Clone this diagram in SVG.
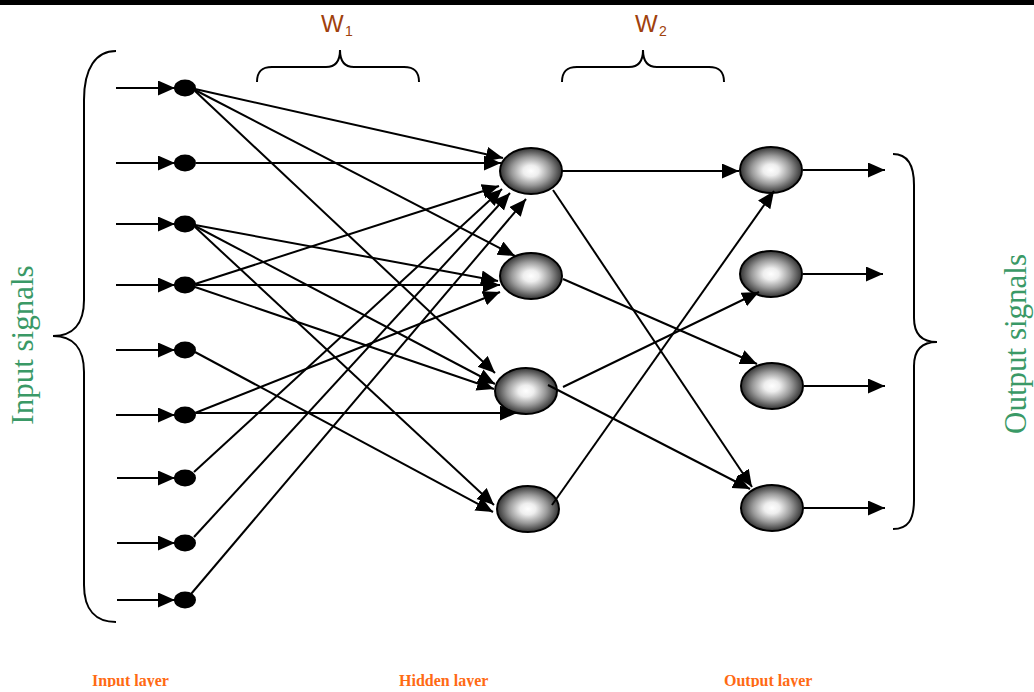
<svg xmlns="http://www.w3.org/2000/svg" width="1034" height="692" viewBox="0 0 1034 692">
  <defs>
    <radialGradient id="ball" cx="50%" cy="50%" r="50%">
      <stop offset="0" stop-color="#ffffff"/>
      <stop offset="0.25" stop-color="#eeeeee"/>
      <stop offset="0.62" stop-color="#9a9a9a"/>
      <stop offset="1" stop-color="#333333"/>
    </radialGradient>
    <marker id="head" markerUnits="userSpaceOnUse" markerWidth="18" markerHeight="16" refX="17" refY="7.5" orient="auto">
      <path d="M0,0 L17,7.5 L0,15 z" fill="#000"/>
    </marker>
    <clipPath id="bottomClip">
      <rect x="0" y="600" width="1034" height="87"/>
    </clipPath>
  </defs>
  <style>
    .edge { stroke: #000; stroke-width: 2; fill: none; marker-end: url(#head); }
    .brace { stroke: #000; stroke-width: 2; fill: none; }
    .dot { fill: #000; }
    .unit { fill: url(#ball); stroke: #000; stroke-width: 2; }
    .wlabel { font-family: "Liberation Sans", Arial, sans-serif; fill: #a0410d; }
    .side { font-family: "Liberation Serif", "Times New Roman", serif; font-size: 31px; fill: #3a9966; }
    .layer { font-family: "Liberation Serif", "Times New Roman", serif; font-size: 16px; font-weight: bold; fill: #ff6a13; }
  </style>

  <rect x="0" y="0" width="1034" height="5" fill="#000"/>

  <!-- weight labels and their braces -->
  <g id="w1">
    <text class="wlabel" x="321" y="32" font-size="24">W</text>
    <text class="wlabel" x="345" y="36" font-size="14">1</text>
    <path class="brace" d="M257,82 C257,72 261,67 272,67 L326,67 C335,67 340,61 340,50 C340,61 345,67 354,67 L404,67 C415,67 419,72 419,82"/>
  </g>
  <g id="w2">
    <text class="wlabel" x="635" y="32" font-size="24">W</text>
    <text class="wlabel" x="659" y="36" font-size="14">2</text>
    <path class="brace" d="M562,82 C562,72 566,67 577,67 L629,67 C638,67 643,61 643,50 C643,61 648,67 657,67 L709,67 C720,67 724,72 724,82"/>
  </g>

  <!-- side braces and captions -->
  <g id="input-signals">
    <path class="brace" d="M116,51 C96,51 84,68 84,100 L84,300 C84,325 72,336 53,336 C72,336 84,347 84,372 L84,585 C84,610 96,622 116,622"/>
    <text class="side" transform="translate(32.5,345) rotate(-90)" text-anchor="middle">Input signals</text>
  </g>
  <g id="output-signals">
    <path class="brace" d="M893,154 C908,154 914,166 914,185 L914,318 C914,334 922,342 937,342 C922,342 914,350 914,366 L914,500 C914,520 908,529 893,529"/>
    <text class="side" transform="translate(1025.5,344) rotate(-90)" text-anchor="middle">Output signals</text>
  </g>

  <!-- input layer -->
  <g id="input-nodes">
    <ellipse id="i1" class="dot" cx="185" cy="88" rx="11" ry="8.5"/>
    <ellipse id="i2" class="dot" cx="185" cy="163" rx="11" ry="8.5"/>
    <ellipse id="i3" class="dot" cx="185" cy="224" rx="11" ry="8.5"/>
    <ellipse id="i4" class="dot" cx="185" cy="285" rx="11" ry="8.5"/>
    <ellipse id="i5" class="dot" cx="185" cy="350" rx="11" ry="8.5"/>
    <ellipse id="i6" class="dot" cx="185" cy="415" rx="11" ry="8.5"/>
    <ellipse id="i7" class="dot" cx="185" cy="478" rx="11" ry="8.5"/>
    <ellipse id="i8" class="dot" cx="185" cy="543" rx="11" ry="8.5"/>
    <ellipse id="i9" class="dot" cx="185" cy="600" rx="11" ry="8.5"/>
  </g>

  <!-- hidden layer -->
  <g id="h1"><ellipse class="unit" cx="531" cy="171" rx="31" ry="23"/></g>
  <g id="h2"><ellipse class="unit" cx="531" cy="276" rx="31" ry="23"/></g>
  <g id="h3"><ellipse class="unit" cx="526" cy="391" rx="31" ry="23"/></g>
  <g id="h4"><ellipse class="unit" cx="528" cy="509" rx="31" ry="23"/></g>

  <!-- output layer -->
  <g id="o1"><ellipse class="unit" cx="771" cy="170" rx="31" ry="23"/></g>
  <g id="o2"><ellipse class="unit" cx="771" cy="274" rx="31" ry="23"/></g>
  <g id="o3"><ellipse class="unit" cx="772" cy="386" rx="31" ry="23"/></g>
  <g id="o4"><ellipse class="unit" cx="772" cy="508" rx="31" ry="23"/></g>

  <g id="connectors">
    <!-- incoming signals -->
    <line class="edge" x1="116" y1="88" x2="175" y2="88"/>
    <line class="edge" x1="116" y1="163" x2="175" y2="163"/>
    <line class="edge" x1="116" y1="224" x2="175" y2="224"/>
    <line class="edge" x1="116" y1="285" x2="175" y2="285"/>
    <line class="edge" x1="116" y1="350" x2="175" y2="350"/>
    <line class="edge" x1="116" y1="415" x2="175" y2="415"/>
    <line class="edge" x1="117" y1="478" x2="175" y2="478"/>
    <line class="edge" x1="117" y1="543" x2="175" y2="543"/>
    <line class="edge" x1="117" y1="600" x2="175" y2="600"/>

    <!-- input to hidden (W1) -->
    <line class="edge" x1="195" y1="89" x2="503" y2="158"/>
    <line class="edge" x1="195" y1="90" x2="515" y2="256"/>
    <line class="edge" x1="195" y1="91" x2="495" y2="373"/>
    <line class="edge" x1="196" y1="163" x2="501" y2="163"/>
    <line class="edge" x1="195" y1="225" x2="498" y2="281"/>
    <line class="edge" x1="195" y1="226" x2="495" y2="384"/>
    <line class="edge" x1="195" y1="227" x2="494" y2="505"/>
    <line class="edge" x1="195" y1="284" x2="499" y2="186"/>
    <line class="edge" x1="196" y1="285" x2="500" y2="285"/>
    <line class="edge" x1="195" y1="287" x2="494" y2="389"/>
    <line class="edge" x1="195" y1="352" x2="493" y2="512"/>
    <line class="edge" x1="195" y1="413" x2="500" y2="292"/>
    <line class="edge" x1="196" y1="413" x2="517" y2="413"/>
    <line class="edge" x1="194" y1="472" x2="502" y2="189"/>
    <line class="edge" x1="194" y1="537" x2="510" y2="193"/>
    <line class="edge" x1="191" y1="594" x2="526" y2="199"/>

    <!-- hidden to output (W2) -->
    <line class="edge" x1="562" y1="171" x2="739" y2="171"/>
    <line class="edge" x1="553" y1="190" x2="752" y2="487"/>
    <line class="edge" x1="563" y1="279" x2="757" y2="364"/>
    <line class="edge" x1="563" y1="387" x2="759" y2="292"/>
    <line class="edge" x1="548" y1="385" x2="750" y2="489"/>
    <line class="edge" x1="552" y1="505" x2="774" y2="191"/>

    <!-- outgoing signals -->
    <line class="edge" x1="803" y1="170" x2="885" y2="170"/>
    <line class="edge" x1="803" y1="274" x2="883" y2="274"/>
    <line class="edge" x1="804" y1="386" x2="885" y2="386"/>
    <line class="edge" x1="804" y1="508" x2="885" y2="508"/>
  </g>

  <!-- layer captions -->
  <g id="layer-captions" clip-path="url(#bottomClip)">
    <text class="layer" x="92" y="686">Input layer</text>
    <text class="layer" x="399" y="686">Hidden layer</text>
    <text class="layer" x="724" y="686">Output layer</text>
  </g>
</svg>
